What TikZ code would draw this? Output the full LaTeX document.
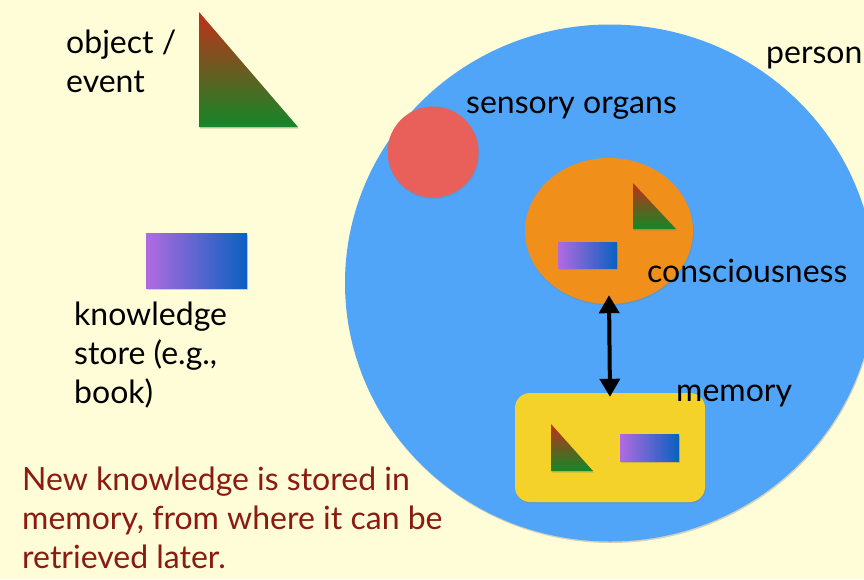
\documentclass[tikz,border=0pt]{standalone}
\usepackage{fontspec}
\setmainfont{Lato}
\usetikzlibrary{shapes.geometric,shadows,arrows.meta}
\definecolor{bgc}{RGB}{255,253,216}
\definecolor{personblue}{RGB}{80,165,248}
\definecolor{senseRed}{RGB}{233,96,90}
\definecolor{consOrange}{RGB}{240,144,26}
\definecolor{memYellow}{RGB}{245,210,42}
\definecolor{triTop}{RGB}{192,48,26}
\definecolor{triBot}{RGB}{20,135,40}
\definecolor{recLeft}{RGB}{176,107,224}
\definecolor{recRight}{RGB}{10,96,192}
\definecolor{noteRed}{RGB}{139,26,16}
\tikzset{
  shad/.style={drop shadow={opacity=0.35,shadow xshift=0.8pt,shadow yshift=-1.5pt}},
  lbl/.style={anchor=base west,inner sep=0pt,font=\fontsize{32}{39}\selectfont,align=left},
  trishade/.style={top color=triTop,bottom color=triBot},
  recshade/.style={left color=recLeft,right color=recRight},
}
\begin{document}
\begin{tikzpicture}[x=1pt,y=-1pt]
\useasboundingbox (0,0) rectangle (864,579);
\fill[bgc] (0,0) rectangle (864,579);
% person
\node[ellipse,fill=personblue,shad,minimum width=530,minimum height=517,inner sep=0pt] (person) at (610,283) {};
% sensory organ
\node[circle,fill=senseRed,shad,minimum size=91,inner sep=0pt] (sense) at (433,152) {};
% consciousness
\node[ellipse,fill=consOrange,shad,minimum width=168,minimum height=146,inner sep=0pt] (cons) at (609,231) {};
% memory
\node[rectangle,rounded corners=15pt,fill=memYellow,shad,minimum width=190,minimum height=109,inner sep=0pt] (mem) at (610,447.5) {};
% legend shapes
\shade[trishade,shad] (199,12) -- (199,127) -- (298,127) -- cycle;
\shade[recshade,shad] (146,233) rectangle (247,288);
% shapes in consciousness
\shade[trishade,shad] (633,183) -- (633,229) -- (676,229) -- cycle;
\shade[recshade,shad] (558,242) rectangle (617,268);
% shapes in memory
\shade[trishade,shad] (551,424) -- (551,471) -- (593,471) -- cycle;
\shade[recshade,shad] (620,434) rectangle (679,461);
% arrow
\draw[line width=4pt,{Triangle[width=20pt,length=18pt]}-{Triangle[width=20pt,length=18pt]}] ([yshift=9pt]cons.south) -- ([yshift=-4pt]mem.north);
% labels (base anchor = baseline of last line)
\node[lbl] (lobj) at (66,92) {object /\\event};
\node[lbl] (lknow) at (74,403) {knowledge\\store (e.g.,\\book)};
\node[lbl] (lperson) at (766,63) {person};
\node[lbl] (lsense) at (466,113) {sensory organs};
\node[lbl] (lcons) at (647,282) {consciousness};
\node[lbl] (lmem) at (676,401) {memory};
\node[lbl,text=noteRed] (lnote) at (22,568) {New knowledge is stored in\\memory, from where it can be\\retrieved later.};
\end{tikzpicture}
\end{document}
